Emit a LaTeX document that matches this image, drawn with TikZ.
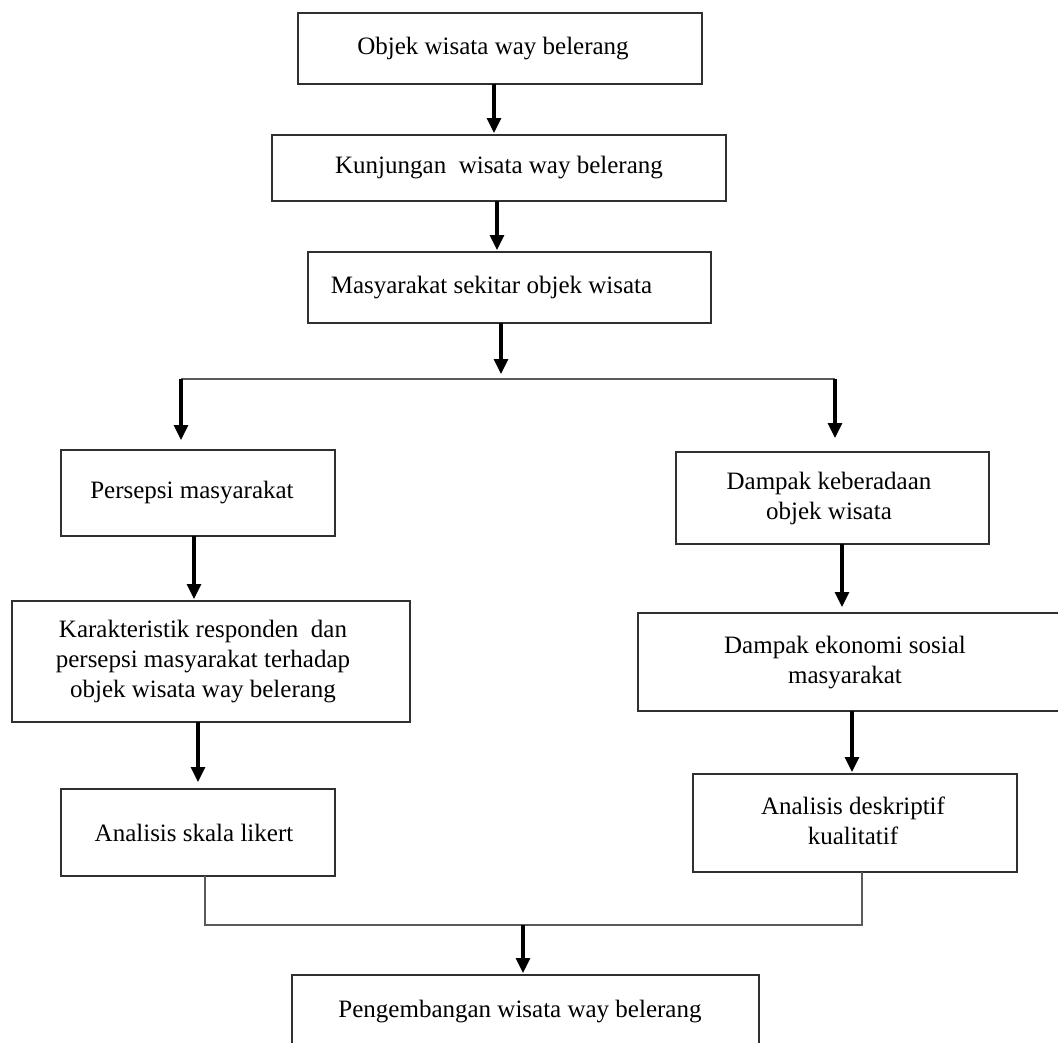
\documentclass[tikz,border=0pt]{standalone}
\usepackage{fontspec}
\setmainfont{Liberation Serif}
\usetikzlibrary{arrows.meta,calc}
\definecolor{boxgray}{HTML}{303030}
\definecolor{linegray}{HTML}{5A5A5A}
\begin{document}
\begin{tikzpicture}[x=1pt,y=-1pt,
  box/.style={draw=boxgray, line width=2.3pt, inner sep=0pt, outer sep=0pt,
    anchor=north west, align=center, font=\fontsize{25}{30}\selectfont},
  arr/.style={draw=black, line width=3.2pt, -{Triangle[width=14pt,length=15pt]}},
  conn/.style={draw=linegray, line width=2.8pt}]
\useasboundingbox (0,0) rectangle (1058,1042);
\clip (0,0) rectangle (1058,1042);
\fill[white] (0,0) rectangle (1058,1042);

% nodes
\node[box, minimum width=404pt, minimum height=71pt] (b1) at (298,13) {\hspace*{-14pt}Objek wisata way belerang};
\node[box, minimum width=454pt, minimum height=66pt] (b2) at (272,135) {\raisebox{-2pt}{Kunjungan\ \ wisata way belerang}};
\node[box, minimum width=403pt, minimum height=71pt] (b3) at (308,252) {\hspace*{-36pt}Masyarakat sekitar objek wisata};
\node[box, minimum width=274pt, minimum height=86pt] (p1) at (61,450) {\hspace*{-12pt}Persepsi masyarakat};
\node[box, minimum width=398pt, minimum height=121pt] (p2) at (12,601) {\raisebox{-6pt}{\hspace*{-16pt}\begin{tabular}{@{}c@{}}Karakteristik responden\ \ dan\\[0pt]persepsi masyarakat terhadap\\objek wisata way belerang\end{tabular}}};
\node[box, minimum width=274pt, minimum height=87pt] (p3) at (61,789) {\raisebox{-3pt}{\hspace*{-8pt}Analisis skala likert}};
\node[box, minimum width=313pt, minimum height=92pt] (q1) at (676,452) {\raisebox{4pt}{\hspace*{-7pt}\begin{tabular}{@{}c@{}}Dampak keberadaan\\objek wisata\end{tabular}}};
\node[box, minimum width=424pt, minimum height=98pt] (q2) at (638,613) {\hspace*{-10pt}\begin{tabular}{@{}c@{}}Dampak ekonomi sosial\\masyarakat\end{tabular}};
\node[box, minimum width=324pt, minimum height=98pt] (q3) at (693,774) {\raisebox{-3pt}{\hspace*{-4pt}\begin{tabular}{@{}c@{}}Analisis deskriptif\\kualitatif\end{tabular}}};
\node[box, minimum width=467pt, minimum height=110pt] (bt) at (292,975) {};
\node[font=\fontsize{25}{30}\selectfont, inner sep=0pt] (btl) at (520,1012) {Pengembangan wisata way belerang};

% junction coordinates
\coordinate (sp) at (501,379);
\coordinate (jl) at (181,379);
\coordinate (jr) at (835,379);
\coordinate (jb1) at (205,925);
\coordinate (jb2) at (862,925);
\coordinate (jm) at (523,925);

% connectors
\draw[arr, shorten >=2pt] ([xshift=-6pt]b1.south) -- ([xshift=-6pt]b1.south |- b2.north);
\draw[arr, shorten >=2pt] ([xshift=-2pt]b2.south) -- ([xshift=-2pt]b2.south |- b3.north);
\draw[arr, shorten >=5pt] ([xshift=-8.5pt]b3.south) -- (sp);
\draw[conn] (jl) -- (jr);
\draw[arr, shorten >=10pt] (jl) -- (jl |- p1.north);
\draw[arr, shorten >=14pt] (jr) -- (jr |- q1.north);
\draw[arr, shorten >=2pt] ([xshift=-4pt]p1.south) -- ([xshift=-4pt]p1.south |- p2.north);
\draw[arr, shorten >=7pt] ([xshift=-13pt]p2.south) -- ([xshift=-13pt]p2.south |- p3.north);
\draw[arr, shorten >=6pt] ([xshift=9.5pt]q1.south) -- ([xshift=9.5pt]q1.south |- q2.north);
\draw[arr, shorten >=2pt] ([xshift=2pt]q2.south) -- ([xshift=2pt]q2.south |- q3.north);
\draw[conn] ([xshift=7pt]p3.south) -- (jb1) -- (jb2) -- ([xshift=7pt]q3.south);
\draw[arr, shorten >=2pt] (jm) -- (jm |- bt.north);
\end{tikzpicture}
\end{document}
